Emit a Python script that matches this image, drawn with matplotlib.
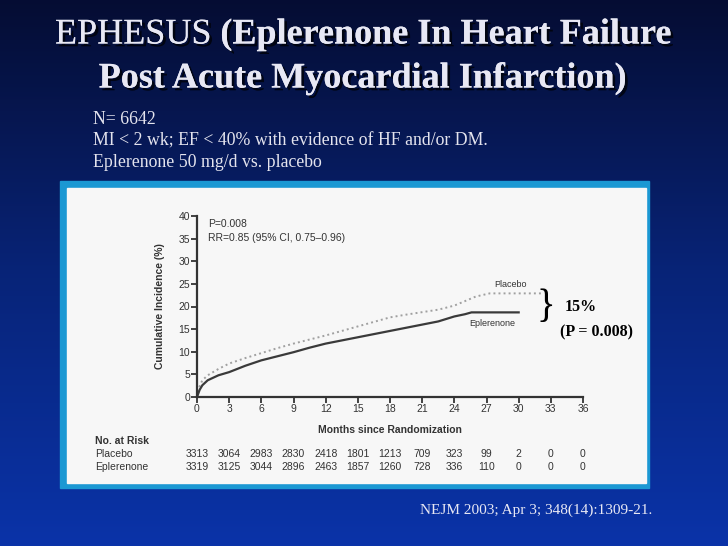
import numpy as np
import matplotlib
matplotlib.use("Agg")
import matplotlib.pyplot as plt
import matplotlib.patheffects as pe
from matplotlib.patches import Rectangle

# curve values
months_pl = [0, 0.25, 0.5, 1, 2, 3, 4.5, 6, 7.5, 9, 10.5, 12, 13.5, 15, 16.5, 18,
             19.5, 21, 22.5, 24, 25, 26, 27.3, 30, 32.3]
placebo = [0, 2.4, 3.7, 4.8, 6.2, 7.4, 8.6, 9.7, 10.8, 11.8, 12.7, 13.6, 14.6, 15.6,
           16.6, 17.6, 18.2, 18.75, 19.3, 20.2, 21.2, 22.2, 22.9, 22.9, 22.9]
months_ep = [0, 0.25, 0.5, 1, 2, 3, 4.5, 6, 7.5, 9, 10.5, 12, 13.5, 15, 16.5, 18,
             19.5, 21, 22.5, 24, 25, 25.6, 27, 30]
eplerenone = [0, 1.6, 2.6, 3.7, 4.8, 5.5, 6.9, 8.1, 9.0, 9.9, 10.9, 11.8, 12.5, 13.2,
              13.9, 14.6, 15.3, 16.0, 16.7, 17.8, 18.3, 18.7, 18.7, 18.7]

risk_months = [0, 3, 6, 9, 12, 15, 18, 21, 24, 27, 30, 33, 36]
risk_placebo = ["3313", "3064", "2983", "2830", "2418", "1801", "1213", "709", "323", "99", "2", "0", "0"]
risk_eplerenone = ["3319", "3125", "3044", "2896", "2463", "1857", "1260", "728", "336", "110", "0", "0", "0"]

x_ticks = list(range(0, 37, 3))
y_ticks = list(range(0, 41, 5))

W, H = 728, 546
fig = plt.figure(figsize=(W / 100, H / 100), dpi=100)

def px(x0, y0, x1, y1):
    # pixel box (top-left origin) -> figure fraction rect
    return [x0 / W, 1 - y1 / H, (x1 - x0) / W, (y1 - y0) / H]

# background gradient
bg = fig.add_axes([0, 0, 1, 1])
t = np.linspace(0, 1, 300)[:, None]
top = np.array([0.02, 0.05, 0.20])
mid = np.array([0.03, 0.14, 0.47])
bot = np.array([0.04, 0.20, 0.66])
col = np.where(t < 0.5, top + (mid - top) * (t / 0.5), mid + (bot - mid) * ((t - 0.5) / 0.5))
bg.imshow(col[:, None, :].repeat(2, axis=1), aspect="auto", extent=[0, 1, 0, 1])
# frame and white panel
bg.add_patch(Rectangle((60 / W, 1 - 488 / H), 589 / W, 307 / H, color="#1b98d3", zorder=2))
bg.add_patch(Rectangle((67 / W, 1 - 483 / H), 579 / W, 295 / H, color="#f7f7f7", zorder=3))
bg.set_xlim(0, 1)
bg.set_ylim(0, 1)
bg.axis("off")

# title
shadow = [pe.withSimplePatchShadow(offset=(2, -2), shadow_rgbFace="black", alpha=0.7), pe.Normal()]
tc = "#e8e8f4"
t1 = fig.text(55 / W, 1 - 35 / H, "EPHESUS ", fontsize=26, family="Liberation Serif",
              color=tc, va="center", ha="left", path_effects=shadow)
fig.canvas.draw()
bb = t1.get_window_extent()
fig.text(bb.x1 / W, 1 - 35 / H, "(Eplerenone In Heart Failure", fontsize=26,
         family="Liberation Serif", weight="bold", color=tc, va="center", ha="left",
         path_effects=shadow)
fig.text(363 / W, 1 - 79 / H, "Post Acute Myocardial Infarction)", fontsize=26,
         family="Liberation Serif", weight="bold", color=tc, va="center", ha="center",
         path_effects=shadow)

sub = ["N= 6642", "MI < 2 wk; EF < 40% with evidence of HF and/or DM.", "Eplerenone 50 mg/d vs. placebo"]
for i, s in enumerate(sub):
    fig.text(93 / W, 1 - (119 + 21.5 * i) / H, s, fontsize=12.8, family="Liberation Serif",
             color="#e4e4ee", va="center", ha="left")

fig.text(420 / W, 1 - 510 / H, "NEJM 2003; Apr 3; 348(14):1309-21.", fontsize=11,
         family="Liberation Serif", color="#e8e8f4", va="center", ha="left")

# the KM plot
ax = fig.add_axes(px(197, 216, 583, 397))
ax.set_facecolor("none")
ax.plot(months_pl, placebo, linestyle=(0, (1, 1.6)), color="#a0a0a0", lw=1.4, clip_on=False)
ax.plot(months_ep, eplerenone, color="#3a3a3a", lw=1.6, clip_on=False)
ax.set_xlim(0, 36)
ax.set_ylim(0, 40)
ax.set_xticks(x_ticks)
ax.set_yticks(y_ticks)
for s in ["top", "right"]:
    ax.spines[s].set_visible(False)
for s in ["left", "bottom"]:
    ax.spines[s].set_linewidth(1.6)
    ax.spines[s].set_color("#333333")
ax.tick_params(direction="out", length=4, width=1.3, color="#333333",
               labelsize=7.5, labelcolor="#333333", pad=1)
for lab in ax.get_xticklabels() + ax.get_yticklabels():
    lab.set_family("Liberation Sans")
ax.set_ylabel("Cumulative Incidence (%)", fontsize=7.5, family="Liberation Sans",
              weight="bold", color="#333333", labelpad=10)
ax.set_xlabel("Months since Randomization", fontsize=7.5, family="Liberation Sans",
              weight="bold", color="#333333", labelpad=8)
ax.text(1, 38.2, "P=0.008", fontsize=7.5, family="Liberation Sans", color="#333333", va="center")
ax.text(1, 35.1, "RR=0.85 (95% CI, 0.75\u20130.96)", fontsize=7.5, family="Liberation Sans",
        color="#333333", va="center")
ax.text(29.2, 24.9, "Placebo", fontsize=6.5, family="Liberation Sans", color="#333333",
        va="center", ha="center")
ax.text(27.5, 16.3, "Eplerenone", fontsize=6.5, family="Liberation Sans", color="#333333",
        va="center", ha="center")

# at-risk table
fig.text(95 / W, 1 - 441 / H, "No. at Risk", fontsize=7.5, family="Liberation Sans",
         weight="bold", color="#333333", va="center")
fig.text(95 / W, 1 - 454 / H, "Placebo", fontsize=7.5, family="Liberation Sans",
         color="#333333", va="center")
fig.text(95 / W, 1 - 467 / H, "Eplerenone", fontsize=7.5, family="Liberation Sans",
         color="#333333", va="center")
for m, a, b in zip(risk_months, risk_placebo, risk_eplerenone):
    xf = (197 + m * (583 - 197) / 36) / W
    fig.text(xf, 1 - 454 / H, a, fontsize=7.5, family="Liberation Sans", color="#333333",
             va="center", ha="center")
    fig.text(xf, 1 - 467 / H, b, fontsize=7.5, family="Liberation Sans", color="#333333",
             va="center", ha="center")

# brace and annotation
fig.text(546 / W, 1 - 308 / H, "}", fontsize=28, family="Liberation Serif", color="black",
         va="center", ha="center")
fig.text(565 / W, 1 - 307 / H, "15%", fontsize=11.5, family="Liberation Serif",
         weight="bold", color="black", va="center", ha="left")
fig.text(560 / W, 1 - 332 / H, "(P = 0.008)", fontsize=11.5, family="Liberation Serif",
         weight="bold", color="black", va="center", ha="left")

fig.savefig("out.png", dpi=100)
